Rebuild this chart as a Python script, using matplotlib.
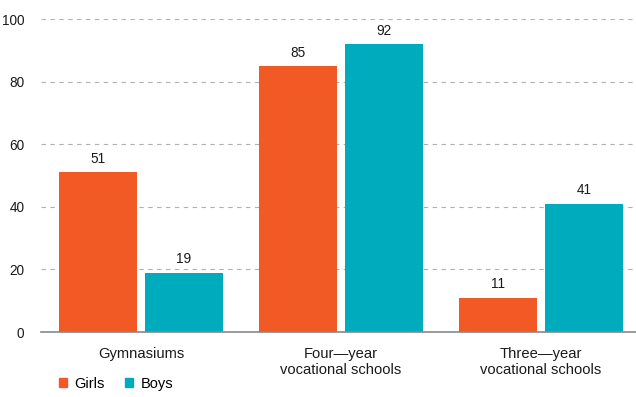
import numpy as np
import matplotlib.pyplot as plt
from matplotlib.patches import Patch

plt.rcParams['font.family'] = ['Liberation Sans', 'DejaVu Sans']

categories = ['Gymnasiums', 'Four\u2014year\nvocational schools', 'Three\u2014year\nvocational schools']
girls = [51, 85, 11]
boys = [19, 92, 41]

orange = '#F15A24'
teal = '#00ABBD'

fig = plt.figure(figsize=(6.36, 3.97), dpi=100)
ax = fig.add_axes([0.0645, 0.1637, 0.9355, 0.7883])

x = np.arange(len(categories))
w = 0.39
b1 = ax.bar(x - 0.215, girls, w, color=orange, zorder=3)
b2 = ax.bar(x + 0.215, boys, w, color=teal, zorder=3)
for bars in (b1, b2):
    for r in bars:
        ax.text(r.get_x() + r.get_width() / 2, r.get_height() + 4.3, str(int(r.get_height())),
                ha='center', va='center', fontsize=9.8, color='#1a1a1a')

ax.set_xlim(-0.5, 2.475)
ax.set_ylim(0, 100)
ax.set_yticks(range(0, 101, 20))
ax.yaxis.grid(True, linestyle=(0, (4, 4)), color='#b0b0b0', linewidth=0.8, zorder=0)
ax.set_xticks(x)
ax.set_xticklabels(categories, fontsize=10.6, color='#1a1a1a', linespacing=1.15)
ax.tick_params(axis='both', length=0, colors='#1a1a1a')
ax.tick_params(axis='y', labelsize=9.8, pad=12)
ax.tick_params(axis='x', pad=11)
for s in ['top', 'right', 'left']:
    ax.spines[s].set_visible(False)
ax.spines['bottom'].set_color('#888888')
ax.spines['bottom'].set_linewidth(1.2)
ax.spines['bottom'].set_zorder(4)

handles = [Patch(color=orange, label='Girls'), Patch(color=teal, label='Boys')]
fig.legend(handles=handles, loc='lower left', bbox_to_anchor=(0.072, -0.018), ncol=2, frameon=False,
           fontsize=10.5, handlelength=0.55, handleheight=0.55, handletextpad=0.5, columnspacing=1.4)

fig.savefig('out.png', dpi=100)
